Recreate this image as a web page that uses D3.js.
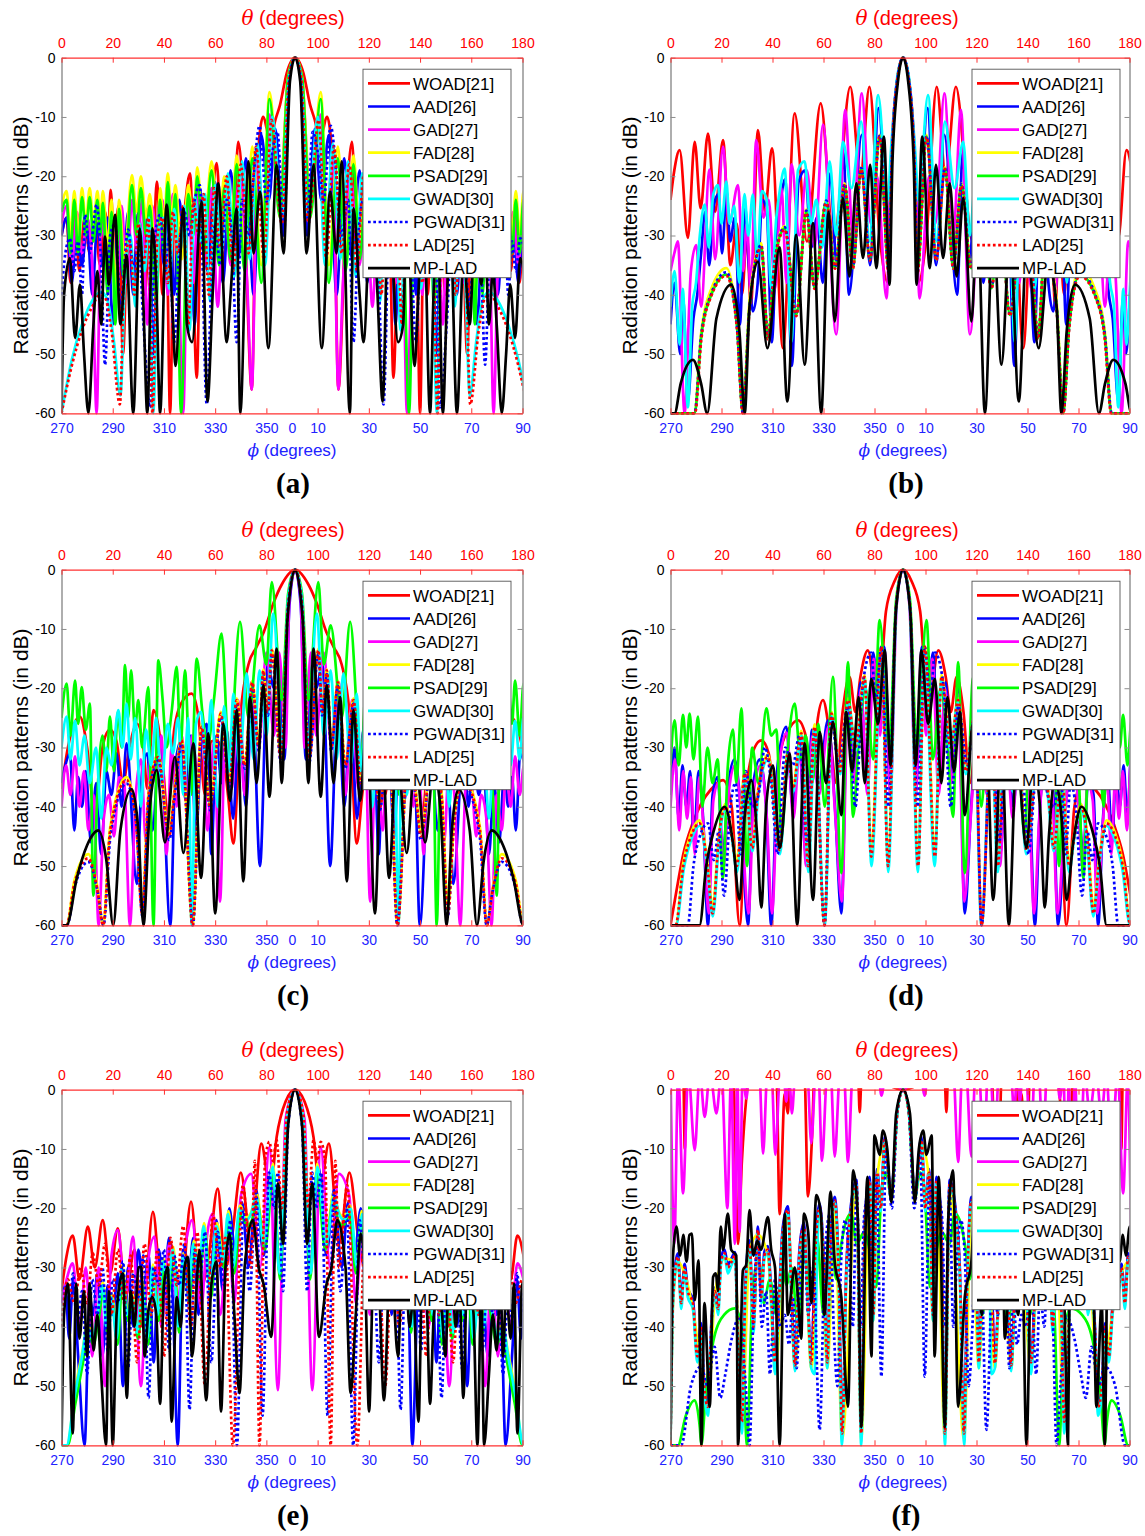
<!DOCTYPE html>
<html><head><meta charset="utf-8">
<script src="https://cdn.jsdelivr.net/npm/d3@7"></script>
<style>body{margin:0;background:#fff}svg{display:block}</style>
</head><body>
<script>
// ---------- labels / ticks ----------
const thetaTicks = [0,20,40,60,80,100,120,140,160,180];
const phiTickPos = [0,20,40,60,80,90,100,120,140,160,180];
const phiTickLabels = ["270","290","310","330","350","0","10","30","50","70","90"];
const dbTicks = [0,-10,-20,-30,-40,-50,-60];
const seriesNames = ["WOAD[21]","AAD[26]","GAD[27]","FAD[28]","PSAD[29]","GWAD[30]","PGWAD[31]","LAD[25]","MP-LAD"];
const seriesColors = ["#ff0000","#0000ff","#ff00ff","#ffff00","#00ff00","#00ffff","#0000ff","#ff0000","#000000"];
const seriesDotted = [false,false,false,false,false,false,true,true,false];
const panelLabels = ["(a)","(b)","(c)","(d)","(e)","(f)"];
// main beam direction (theta, degrees); patterns are symmetric about it
const beamCenter = 91.2;

// ---------- data: [theta, dB] pairs (peaks and nulls) from 0 deg to the main beam ----------
// panel (a)
const WOAD_a = [0,-30, 2,-27, 3.5,-38, 5,-26, 7,-36, 9,-27, 11,-33, 13,-26, 15,-35, 17,-26, 18.2,-30, 19.2,-22.3, 20.6,-32, 22.3,-25, 24,-50, 26,-28, 28,-38, 30,-26, 32.5,-40, 34.5,-28, 35.6,-35, 37.2,-20.9, 39.5,-40, 41,-30, 42.4,-60, 44,-27, 46.5,-33, 48,-26, 50.2,-19.5, 52.8,-54, 54.5,-27, 56.5,-31, 58,-28, 60.6,-17.8, 63,-36, 65,-24, 67,-30, 69,-14.2, 71.5,-28, 74.3,-56, 76,-22, 78.7,-10, 81.5,-14, 83.5,-10.5, 85.3,-8, 88,-2.5, 91.2,0];
const AAD_a = [0,-30, 2,-27, 4,-38, 6,-28, 8,-35, 10,-28, 12,-40, 14,-28, 16,-35, 18,-27, 20,-45, 22,-27, 24,-37, 26,-26, 28,-40, 30,-26, 32,-34, 34,-25, 36,-50, 38,-25, 40,-35, 42,-24, 44,-40, 46,-24, 48,-33, 50,-23, 52,-45, 54,-22, 57,-36, 60,-21, 63,-38, 66,-19, 69,-34, 72,-17, 75,-40, 78,-13, 81,-24, 83.5,-12, 86.5,-30, 89,-3.5, 91.2,0];
const GAD_a = [0,-28, 2,-25, 4,-35, 6,-26, 8,-33, 10,-27, 12,-35, 13.7,-60, 15.5,-28, 17.5,-32, 19.5,-27, 21.5,-40, 23.5,-25, 25.5,-38, 27.5,-24, 29.5,-33, 31.5,-24, 33.5,-45, 35.5,-25, 37.5,-35, 39.5,-24, 41.5,-40, 43.5,-23, 45.5,-32, 47.5,-60, 49.5,-24, 51.5,-38, 53.5,-22, 56,-35, 58.5,-22, 61,-42, 63.5,-22, 66,-35, 69.7,-20, 72.5,-38, 74.3,-56, 76.5,-17, 79,-28, 81.2,-9.6, 85,-25, 88.5,-3.5, 91.2,0];
const FAD_a = [0,-25, 2,-22.5, 3.5,-30, 5,-22.5, 6.5,-30, 8,-22, 9.5,-28, 11,-22, 12.5,-28, 14,-22.5, 15.1,-27, 16.2,-22.5, 18,-32, 19.5,-24, 21,-40, 22.5,-24, 24.5,-34, 27.5,-19.8, 29.3,-26, 31,-20, 33,-27, 34.5,-23, 37,-36, 38.5,-22, 40,-28, 41.5,-19.5, 43,-27, 44.5,-21.5, 47,-34, 49.5,-21.5, 51.5,-28, 53,-18.5, 55.5,-30, 58.6,-17.5, 61.5,-30, 63.5,-20, 66,-30, 68.4,-16.5, 71.5,-33, 74.5,-15, 78,-35, 81.2,-5.8, 85.3,-24, 88.4,-3.5, 91.2,0];
const PSAD_a = [0,-26, 2,-24, 3.5,-33, 5,-24, 6.5,-33, 8,-23.5, 9.5,-30, 11,-23.5, 12.5,-31, 14,-24, 15.1,-30, 16.2,-24.5, 18,-40, 19.5,-26, 21,-45, 22.5,-25.5, 24.5,-38, 27.5,-21.5, 29.3,-30, 31,-22, 33,-30, 34.5,-25, 37,-42, 38.5,-24, 40,-33, 41.5,-21, 43,-30, 44.5,-23, 46.7,-60, 49.5,-23, 51.5,-30, 53,-20, 55.5,-33, 58.6,-19, 61.5,-35, 63.5,-22, 66,-34, 68.4,-18, 71.5,-36, 74.5,-17, 78,-38, 81.2,-7, 85.3,-27, 88.4,-3.5, 91.2,0];
const GWAD_a = [0,-60, 4,-51, 8,-45, 12,-41, 15.5,-39.5, 18,-41, 20.5,-48, 23,-57, 25,-35, 27,-30, 28.8,-42, 30.5,-28, 32.5,-36, 34.2,-27, 35.8,-60, 38,-29, 40,-27, 42,-39, 44,-25.5, 46,-34, 48,-25, 50,-46, 52,-23.5, 54,-31, 56,-23, 58,-41, 60,-21.5, 62.5,-33, 65,-19.5, 67.5,-37, 70.5,-17.5, 73.5,-34, 76.5,-14.5, 79.5,-35, 82.3,-10, 86.2,-27, 88.8,-3.5, 91.2,0];
const PGWAD_a = [0,-40, 1.5,-33, 3.3,-30.5, 5,-36, 6.5,-31, 8,-40, 9.2,-26.5, 11,-33, 13.7,-24.8, 15.5,-35, 17,-51.8, 19,-30, 21,-28, 23,-42, 26,-29, 28,-35, 30,-31, 32,-45, 34.6,-59, 36.5,-30, 38.5,-26.5, 40.5,-36, 42,-30, 44,-48, 46,-32, 48,-26, 50,-30, 52,-24, 54,-21.5, 56.7,-58.5, 58.5,-38, 60,-28, 62,-35, 64.5,-24, 66.5,-30, 68.4,-48, 70.5,-24, 73,-30, 75,-20, 77.3,-11.5, 80.1,-24.3, 82,-17, 84.3,-12.5, 86.8,-30, 89,-3.5, 91.2,0];
const LAD_a = [0,-60, 4,-52, 8,-46, 12,-42, 15,-40, 17,-40.5, 19.5,-46, 22.8,-58.5, 24.5,-36, 26.5,-31, 28.5,-40, 30,-28, 32,-35, 34,-27, 35.5,-60, 37.5,-30, 39.5,-27, 41.5,-38, 43.5,-26, 45.5,-33, 47.5,-25, 49.5,-45, 51.5,-24, 53.5,-30, 55.5,-23, 57.5,-40, 59.5,-22, 62,-32, 64.5,-20, 67,-36, 70,-18, 73,-33, 76,-15, 79,-34, 82,-10.5, 86,-28, 88.8,-3.5, 91.2,0];
const MPLAD_a = [0,-60, 1,-40, 3.3,-33.8, 5.3,-47.3, 7.2,-38.3, 8.8,-50, 10.5,-60, 12.4,-45.6, 14,-36, 15.5,-45, 17,-30.2, 18.5,-38.3, 20.9,-26.5, 23,-45, 25.4,-33.3, 28,-60, 30.6,-28.8, 32,-42, 33.5,-60, 35.5,-28.8, 37,-38, 38.5,-60, 41,-24.8, 43.5,-44, 44.5,-52, 47.6,-25.4, 49,-45, 51,-48, 54.7,-24.3, 57,-58, 59,-40, 61.2,-21.2, 64.5,-48, 66,-40, 68.4,-25.4, 69.8,-60, 73,-17.5, 75,-33, 77.5,-22.6, 80.8,-49, 84,-18.1, 86.7,-33, 89.2,-4, 91.2,0];

// panel (b)
const WOAD_b = [0,-24, 1.5,-19, 3.6,-15.6, 6.8,-30.4, 9.5,-14.2, 11.8,-25.4, 14.7,-12.8, 17.5,-26, 20.6,-13.9, 23.5,-35, 26,-28, 28,-40, 30,-30, 31.5,-42, 34.3,-12.2, 37,-26, 39.8,-15.3, 44.1,-49, 48.7,-9.4, 53.5,-31, 58.9,-7.7, 64,-31, 70.5,-4.9, 74.5,-20, 78,-4.9, 82,-30, 85.3,-38, 86.5,-18, 89,-3.5, 91.2,0];
const AAD_b = [0,-45, 1.6,-38, 3.8,-50, 5,-41, 6.8,-58, 9,-44, 10.5,-40, 12,-33, 13.6,-26, 15.2,-35, 17,-25, 18.8,-23, 20.2,-33, 22,-22.5, 23.4,-31, 25.2,-27, 27.2,-45, 29.2,-25, 30.7,-35, 32.3,-42.8, 34.2,-38, 36,-24, 37.8,-26, 39.7,-48, 41.7,-29, 43.2,-24, 45,-20.5, 47.6,-52, 50.2,-21, 52.8,-19, 55.2,-32, 57.4,-27, 59.7,-38, 62.6,-19.5, 65.2,-35, 67.8,-16, 70,-40, 75,-13, 78.2,-35, 81.6,-8.5, 85.4,-30, 86.6,-18, 89,-3.5, 91.2,0];
const GAD_b = [0,-36, 1.5,-33, 2.9,-31, 5.5,-60, 8,-36, 10.1,-31.6, 12,-42, 15.3,-18.9, 17.5,-34, 20.6,-15, 23,-28, 26.5,-21.5, 28.5,-36, 30,-28, 31.5,-40, 33.6,-13.9, 36.5,-27, 38.5,-24, 41,-39, 43.5,-22, 45.5,-38, 47.5,-18, 50.5,-30, 53.5,-19, 56.5,-32, 59.8,-11.3, 65,-46.7, 68.5,-8.8, 71.5,-30, 75,-6, 78.5,-28, 81,-20, 84.7,-40.6, 86.5,-18, 89,-3.5, 91.2,0];
const FAD_b = [0,-60, 9.3,-60, 12,-46.5, 16,-39, 21.9,-35.5, 26,-44, 28.4,-60, 31,-41, 35.6,-31.3, 38.2,-47, 41,-33.5, 44.8,-28.4, 49.3,-43, 53.3,-25.6, 56.5,-38.5, 61.1,-24, 64.5,-35, 68.3,-21.2, 71.5,-35, 74.8,-18.5, 78.2,-33.5, 82,-13, 85.6,-36, 86.7,-18, 89,-3.5, 91.2,0];
const PSAD_b = [0,-60, 9.5,-60, 12,-47.3, 16,-40, 21.9,-36.6, 26,-45, 28.4,-60, 31,-42, 35.6,-31.9, 38.2,-47.3, 41,-34, 44.8,-28.8, 49.3,-43.4, 53.3,-26, 56.5,-38.9, 61.1,-24.3, 64.5,-35.5, 68.3,-21.5, 71.5,-35.5, 74.8,-18.7, 78.2,-34, 82,-13.3, 85.6,-36, 86.7,-18, 89,-3.5, 91.2,0];
const GWAD_b = [0,-42, 1.6,-36, 3.6,-48.4, 4.8,-39, 6.8,-59, 8.5,-42, 10,-38, 11.5,-30, 13.4,-24.8, 15,-32, 16.8,-23, 18.6,-21.5, 20,-28, 21.9,-20.9, 23.2,-28, 25,-25, 27,-38, 29,-23, 30.5,-30, 32.3,-23.1, 34,-34, 35.8,-22.5, 37.6,-23.7, 39.5,-39, 41.5,-27, 43,-22, 44.8,-18.7, 47.4,-48, 50,-19, 52.6,-17.5, 55,-28, 57.2,-24, 59.5,-32, 62.4,-17.5, 65,-30, 67.6,-14.2, 71,-22, 74.8,-10.8, 78,-31, 81.4,-6.3, 85.2,-24, 86.4,-16, 89,-3, 91.2,0];
const PGWAD_b = [0,-60, 9.4,-60, 12,-47, 16,-39.8, 21.9,-36.2, 26,-45, 28.4,-60, 31,-42, 35.6,-31.6, 38.2,-47, 41,-33.8, 44.8,-28.6, 49.3,-43.2, 53.3,-25.8, 56.5,-38.6, 61.1,-24.1, 64.5,-35.3, 68.3,-21.3, 71.5,-35.3, 74.8,-18.6, 78.2,-33.8, 82,-13.2, 85.6,-36.2, 86.7,-18, 89,-3.5, 91.2,0];
const LAD_b = [0,-60, 9.6,-60, 12.1,-47.5, 16,-40.2, 21.9,-36.8, 26,-45.5, 28.4,-60, 31,-42.5, 35.6,-32, 38.2,-47.5, 41,-34.2, 44.8,-29, 49.3,-43.6, 53.3,-26.2, 56.5,-39, 61.1,-24.5, 64.5,-35.6, 68.3,-21.6, 71.5,-35.6, 74.8,-18.8, 78.2,-34.2, 82,-13.4, 85.6,-36.5, 86.7,-18.2, 89,-3.5, 91.2,0];
const MPLAD_b = [0,-60, 1.6,-60, 4,-55, 8.8,-51, 12,-55, 14.4,-60, 18,-44, 23.8,-38.3, 27,-46, 29.1,-60, 31,-42, 34.3,-34.4, 38,-49, 42.8,-32, 45.8,-58, 49.3,-29.9, 52.6,-51.8, 55.9,-27.9, 59.1,-60, 62,-26, 64.4,-44.5, 67.6,-23.7, 70.2,-36.9, 72.9,-21.2, 75.5,-33.8, 78.3,-18.1, 80.7,-35.5, 83.7,-13.3, 85.9,-38.3, 87,-18, 89.2,-4, 91.2,0];

// panel (c)
const WOAD_c = [0,-37, 2.5,-30, 5,-26, 7.2,-24.8, 10,-30, 13.1,-41.7, 16,-30, 18.9,-27, 21.5,-29, 24,-36, 26.5,-30, 29.5,-26, 32,-30, 33.5,-37, 35.9,-23.7, 39,-30, 41.5,-41, 44,-27, 47.5,-22, 50.8,-20.9, 53.5,-25, 56,-38, 58.5,-29, 60.6,-28.8, 63,-31, 65,-38, 67.1,-46.2, 70,-24, 73,-16, 76.2,-13, 79,-10.5, 82.7,-5.7, 86,-2.5, 91.2,0];
const AAD_c = [0,-36, 1.5,-33, 3.3,-31, 5,-44, 6.5,-35, 8,-40, 9.5,-34, 11.5,-46, 13.5,-36, 15.5,-48, 17.5,-34, 19.5,-38, 21.5,-31, 23.5,-40, 25.4,-29.3, 29.4,-53, 31.5,-34, 33.5,-31, 35.5,-44, 38.5,-28.2, 42.5,-60, 44.5,-33, 46.5,-29, 48.5,-39, 50.5,-28, 52.5,-45, 54.5,-30, 56.7,-26, 58.5,-48, 60.5,-28, 62.5,-36, 64.5,-27, 67,-42, 69.5,-24, 72,-40, 74.5,-21, 77.5,-50, 80.5,-16, 83,-20, 84.5,-14, 87,-32, 89,-6, 91.2,0];
const GAD_c = [0,-40, 1.8,-33, 3.5,-38, 5.3,-31.5, 7,-40, 8.8,-34, 10.5,-44, 12.5,-38, 14.5,-60, 16.5,-42, 18.5,-38, 20.5,-45, 22.5,-35, 24.5,-36, 26.7,-60, 29,-38, 31,-32, 33,-46, 35,-30, 37,-36, 39,-28, 41,-48, 43,-30, 45,-40, 47,-28, 49,-39, 51,-28, 53,-34, 55,-26, 57,-44, 59.5,-29, 61.9,-56, 64,-26, 66.5,-37, 69,-22, 71.5,-38, 74,-19, 77,-30, 80,-14, 83,-28, 85,-14, 87.5,-30, 89,-5, 91.2,0];
const FAD_c = [0,-60, 2,-60, 5,-52.5, 10.5,-48, 14,-53.5, 16.3,-60, 19,-43.5, 25.4,-35, 29,-41.5, 31.5,-57, 34,-37.5, 37.8,-31.2, 42,-44.5, 44,-37.5, 46.9,-28.4, 51.2,-60, 54.7,-26.1, 58,-39.5, 62.2,-24, 65.5,-35.5, 68.4,-21.7, 71.5,-32.5, 74.5,-18.7, 77,-29.5, 78.8,-16.8, 80.5,-23.5, 82.1,-13.3, 85.7,-31.5, 88.5,-6, 91.2,0];
const PSAD_c = [0,-25, 2,-19.2, 3.5,-28, 5.3,-18.7, 6.5,-26, 7.9,-19.8, 9.5,-27, 11.1,-22.6, 12.4,-55, 14,-38, 16,-28, 17.5,-34, 18.9,-24.8, 20.5,-34, 22,-24, 23.5,-30, 24.8,-16.1, 26,-25, 27.2,-17, 28.7,-27, 30,-22, 31.5,-30, 33.9,-19.8, 35.9,-60, 37.8,-15.3, 39.5,-22, 41,-30, 43,-24, 45,-16.4, 46.5,-30, 48.2,-17, 50.5,-38, 52.8,-15, 55,-24, 57,-30, 59.5,-22, 62.5,-10.8, 65.5,-32, 69.7,-8.8, 73,-25, 77.3,-9.4, 80,-16, 82.1,-2.1, 86,-22, 88.5,-4, 91.2,0];
const GWAD_c = [0,-30, 2,-24.8, 3.5,-32, 5.3,-25.5, 7,-33, 9,-28, 11,-36, 13.5,-30, 15.5,-42, 17.5,-30, 19.5,-33, 22.2,-23.7, 23.8,-30, 25.4,-22.6, 27,-32, 28.8,-25, 31,-40, 33,-27, 35,-33, 37,-25, 39,-36, 41.5,-26, 43.5,-31, 45.5,-25, 47.5,-38, 49.5,-25, 50.8,-60, 52.5,-26, 54.5,-24, 56.5,-33, 58.5,-22, 61,-40, 63.5,-23, 65.5,-34, 67.1,-20.9, 69.5,-33, 72.3,-17.5, 75,-32, 77.3,-17, 80,-28, 82.7,-7.4, 86.3,-30, 88.5,-5, 91.2,0];
const PGWAD_c = [0,-60, 2.2,-60, 5.2,-53.5, 10.5,-49.3, 14.2,-54.5, 16.4,-60, 19.2,-44.6, 25.4,-36.1, 29.1,-42.6, 31.6,-58.5, 34.1,-38.6, 37.8,-32.2, 42.1,-45.6, 44.1,-38.6, 46.9,-29.4, 51.3,-60, 54.7,-27.1, 58.1,-40.6, 62.2,-24.9, 65.6,-36.6, 68.4,-22.6, 71.6,-33.6, 74.5,-19.6, 77.1,-30.6, 78.8,-17.6, 80.6,-24.6, 82.1,-14.2, 85.7,-32.6, 88.5,-6, 91.2,0];
const LAD_c = [0,-60, 2,-60, 5,-53, 10.5,-48.7, 14,-54, 16.3,-60, 19,-44, 25.4,-35.5, 29,-42, 31.5,-58, 34,-38, 37.8,-31.6, 42,-45, 44,-38, 46.9,-28.8, 51.2,-60, 54.7,-26.5, 58,-40, 62.2,-24.3, 65.5,-36, 68.4,-22, 71.5,-33, 74.5,-19, 77,-30, 78.8,-17, 80.5,-24, 82.1,-13.6, 85.7,-32, 88.5,-6, 91.2,0];
const MPLAD_c = [0,-60, 2,-60, 6,-52, 10,-46.5, 14.4,-44, 17.5,-49, 20.2,-60, 23,-44, 27.4,-37, 30,-44, 32,-60, 34.5,-40, 37.2,-33.8, 40.4,-46, 44.3,-31.6, 47.6,-47.8, 51.5,-29.3, 54.5,-52, 57.3,-27.6, 60,-58, 63.2,-26, 65.8,-39, 68.4,-23.7, 71,-52.6, 73.6,-21.5, 76.2,-36, 78.8,-19.5, 81.2,-38.3, 84,-13.3, 86,-36, 88.3,-8, 91.2,0];

// panel (d)
const WOAD_d = [0,-60, 2,-55, 5,-48, 8.5,-43, 12,-39.5, 16,-37, 20.6,-35.5, 24,-40, 27.1,-60, 30,-36, 33,-30, 35.6,-28.8, 38.5,-31, 41,-38, 43.5,-30, 47,-26.5, 50,-25.4, 53,-28, 55.5,-36, 57.5,-26, 59.8,-22, 62.5,-28, 65,-36, 67.5,-24, 70.2,-18.1, 72.5,-24, 74.5,-18, 77.4,-13.6, 81.3,-24, 84.5,-7, 87.8,-2, 91.2,0];
const AAD_d = [0,-38, 1.6,-30, 3.2,-42, 4.7,-33, 6.2,-40, 7.7,-34, 9.2,-46, 11,-34, 12.8,-42, 14.7,-60, 16.5,-38, 18.5,-35, 20.5,-48, 22.8,-36, 25.1,-32, 27.5,-40, 30.4,-60, 32.5,-36, 35,-32, 37.5,-40, 39.5,-60, 42,-33, 45.4,-26.5, 48,-40, 50.5,-29, 53,-48, 55.5,-27, 58,-37, 61.7,-25.4, 64.5,-40, 67,-58, 69.5,-20, 72,-35, 74.5,-19, 77,-36, 79.5,-14, 82,-26, 83.8,-13, 86,-36, 88.5,-6, 91.2,0];
const GAD_d = [0,-40, 1.8,-32, 3.4,-44, 5,-34, 6.5,-42, 8,-35, 9.5,-48, 11.3,-35, 13,-44, 15,-58, 16.8,-39, 18.8,-36, 20.8,-50, 23,-37, 25.3,-33, 27.8,-42, 30.6,-58, 32.8,-37, 35.3,-33, 37.8,-42, 39.8,-58, 42.3,-34, 45.6,-27.5, 48.2,-42, 50.7,-30, 53.2,-50, 55.7,-28, 58.2,-38, 61.9,-26.5, 64.7,-42, 67.2,-56, 69.7,-21, 72.2,-36, 74.7,-20, 77.2,-38, 79.7,-15, 82.2,-28, 84,-14, 86.2,-38, 88.7,-6, 91.2,0];
const FAD_d = [0,-60, 2,-60, 5,-49.5, 8,-44.5, 11.4,-42.3, 14.5,-49.5, 16.5,-57, 19,-44.5, 21.5,-39.5, 24,-44.5, 26,-49, 29.1,-34, 32,-46.5, 34.5,-36.5, 38.2,-31.2, 42.8,-46.5, 46,-30.6, 48,-36.5, 51.3,-27.2, 54,-49, 56.5,-26.1, 60.4,-60, 63.1,-24, 66.5,-33.5, 69.6,-21.7, 72.5,-29.5, 76.1,-17.8, 78.7,-47, 82.7,-12.8, 85.3,-49, 88.5,-6, 91.2,0];
const PSAD_d = [0,-33, 1.6,-25.4, 3.2,-33, 4.9,-24.5, 6.2,-30, 7.5,-24.3, 9,-32, 10.8,-24.8, 12.5,-40, 14.5,-30, 16.5,-36, 18.5,-32, 20.5,-52, 22.5,-33, 24.5,-27, 25.8,-36, 27.8,-23.4, 30,-50, 32,-30, 34.5,-36, 37.6,-23.4, 39.5,-28, 41.5,-27, 43.5,-45, 46,-30, 48.7,-22.6, 51,-32, 53,-28, 55.5,-36, 58,-26, 60.5,-40, 63.7,-18.1, 67,-51.2, 69.6,-15.6, 71.6,-41.7, 74,-28, 76.5,-20, 79.5,-32, 82,-8.5, 85.8,-30, 88.5,-5, 91.2,0];
const GWAD_d = [0,-60, 2.2,-60, 5.2,-50.5, 8.2,-45.5, 11.5,-43.2, 14.6,-51, 16.6,-58.5, 19.1,-45.5, 21.6,-40.5, 24.1,-45.5, 26.1,-51, 29.2,-34.8, 32.1,-47.5, 34.6,-37.5, 38.3,-32, 42.9,-48, 46.1,-31.4, 48.1,-37.5, 51.4,-28, 54.1,-51, 56.6,-26.9, 60.5,-60, 63.2,-24.7, 66.6,-34.5, 69.7,-22.4, 72.6,-30.5, 76.2,-18.5, 78.8,-50, 82.8,-13.4, 85.4,-51, 88.6,-6, 91.2,0];
const PGWAD_d = [0,-60, 6.8,-60, 9,-50, 11.5,-45, 14.7,-42.8, 17,-49, 19,-44, 21,-55, 23.5,-40, 25.5,-36, 27.5,-48, 29.5,-34, 32,-40, 34.5,-38, 37,-30, 39.5,-36, 42,-48, 45,-30, 48,-33, 50.5,-28, 53.5,-46, 56.5,-27, 60.4,-60, 63,-25, 66,-33, 69.5,-23, 72.5,-40, 75.5,-19, 78.7,-14, 80.5,-22, 82.7,-13, 85.5,-40, 88.5,-6, 91.2,0];
const LAD_d = [0,-60, 2,-60, 5,-50, 8,-45, 11.4,-42.8, 14.5,-50, 16.5,-58, 19,-45, 21.5,-40, 24,-45, 26,-50, 29.1,-34.4, 32,-47, 34.5,-37, 38.2,-31.6, 42.8,-47.3, 46,-31, 48,-37, 51.3,-27.6, 54,-50, 56.5,-26.5, 60.4,-60, 63.1,-24.3, 66.5,-34, 69.6,-22, 72.5,-30, 76.1,-18.1, 78.7,-48.4, 82.7,-13, 85.3,-50, 88.5,-6, 91.2,0];
const MPLAD_d = [0,-60, 11.4,-60, 14,-50, 17,-44, 21.2,-40, 24.5,-46, 27.1,-55.7, 29,-42, 31.7,-35.5, 34,-45, 35.6,-57, 37.5,-40, 40.2,-33, 42.8,-47, 46.7,-31, 49.7,-60, 52.6,-29.3, 55.9,-55.7, 58.5,-27.4, 61,-36, 63.7,-25.7, 67,-41.4, 68.9,-24, 71.2,-34, 73.8,-21.5, 76.2,-36, 78.7,-18.4, 81.4,-26, 84,-13.6, 86.3,-33, 88.4,-7, 91.2,0];

// panel (e)
const WOAD_e = [0,-34, 2,-28, 4.4,-24.6, 7,-32, 10.3,-23.1, 13,-30, 16.1,-22, 19,-31, 22,-23.4, 25,-35, 28.5,-27, 31.5,-40, 35.7,-20.6, 39,-33, 42.8,-26, 46,-38, 50.6,-18.9, 54,-34, 57.5,-28, 61,-16.7, 64,-30, 66.5,-25, 70,-14, 74,-26, 78,-9.1, 81.5,-17, 84,-8, 87.5,-2, 91.2,0];
const AAD_e = [0,-36, 1.5,-33, 3,-42, 4.5,-32, 6.5,-45, 9,-60, 11,-35, 12.5,-38, 14,-31, 16,-45, 18,-33, 20,-38, 22,-31, 24,-50, 26,-30, 28,-40, 30,-27, 32,-34, 34,-28, 36,-46, 38,-27, 40,-35, 42,-25, 43.5,-36, 45.4,-60, 47.5,-27, 49.5,-32, 51.5,-25, 53.5,-38, 55.5,-24, 58,-31, 60.5,-22, 63,-34, 65.5,-20, 68,-28, 70.5,-19, 73,-30, 76,-17, 79,-28, 82,-13, 85.2,-30, 88,-5, 91.2,0];
const GAD_e = [0,-36, 2,-32, 4.4,-29.3, 7,-40, 9.5,-30, 12,-45, 14.5,-30, 17,-50, 19.5,-28, 22,-23.7, 25,-35, 27.9,-24.8, 31,-50, 33.5,-30, 36.3,-24.8, 39,-40, 42,-26, 45,-36, 48,-27, 51,-22, 54.5,-37, 57,-24, 59.1,-20.9, 62,-38, 65,-24, 67.5,-36, 70,-18, 74.1,-14.2, 77.5,-30, 81.2,-9.7, 84.5,-50.7, 87.5,-5, 91.2,0];
const FAD_e = [0,-60, 2.2,-60, 5.2,-51, 8.2,-44, 10.2,-39.5, 12.2,-41.5, 14.2,-37.5, 16.2,-32.5, 17.7,-39.5, 19.7,-34.5, 21.7,-41.5, 23.7,-29.5, 25.7,-37.5, 27.7,-34.5, 29.7,-40.5, 31.7,-32.5, 33.7,-41.5, 35.7,-29.5, 37.7,-37.5, 39.7,-28.5, 41.7,-32.5, 43.7,-26.5, 45.7,-39.5, 47.7,-27.5, 49.7,-34.5, 51.7,-25.5, 53.7,-30.5, 55.7,-22.5, 58.2,-33.5, 60.7,-22.5, 63.2,-28.5, 65.2,-20.5, 67.2,-29.5, 69.7,-19.5, 72.3,-21.5, 74.2,-20.5, 76.2,-17.5, 79.2,-25.5, 82.6,-12.5, 85.1,-31, 88,-5, 91.2,0];
const PSAD_e = [0,-60, 2.4,-60, 5.4,-53, 8.4,-46, 10.4,-41, 12.4,-43, 14.4,-39, 16.4,-34, 17.9,-41, 19.9,-36, 21.9,-43, 23.9,-31, 25.9,-39, 27.9,-36, 29.9,-42, 31.9,-34, 33.9,-43, 35.9,-31, 37.9,-39, 39.9,-30, 41.9,-34, 43.9,-28, 45.9,-41, 47.9,-29, 49.9,-36, 51.9,-27, 53.9,-32, 55.9,-24, 58.4,-35, 60.9,-24, 63.4,-30, 65.4,-22, 67.4,-31, 69.9,-21, 72.4,-23, 74.4,-22, 76.4,-19, 79.4,-27, 82.8,-14, 85.3,-32, 88.2,-5, 91.2,0];
const GWAD_e = [0,-60, 2,-60, 5,-52, 8,-45, 10,-40, 12,-42, 14,-38, 16,-33, 17.5,-40, 19.5,-35, 21.5,-42, 23.5,-30, 25.5,-38, 27.5,-35, 29.5,-41, 31.5,-33, 33.5,-42, 35.5,-30, 37.5,-38, 39.5,-29, 41.5,-33, 43.5,-27, 45.5,-40, 47.5,-28, 49.5,-35, 51.5,-26, 53.5,-31, 55.5,-23, 58,-34, 60.5,-23, 63,-29, 65,-21, 67,-30, 69.5,-20, 72.1,-22, 74,-21, 76,-18, 79,-26, 82.5,-13, 85.1,-31, 88,-5, 91.2,0];
const PGWAD_e = [0,-40, 1.5,-33, 3,-38, 4.5,-31, 6,-40, 8,-34, 10,-48, 12,-32, 14,-38, 16,-30, 18,-44, 20,-32, 22,-36, 24,-29, 26,-47, 28,-31, 30,-35, 32,-28, 34,-52, 36,-30, 38,-33, 40,-27, 42,-44, 44,-28, 46,-33, 48,-26, 50,-54, 52,-27, 54,-32, 56,-24, 58.5,-46, 61,-24, 63.5,-33, 66,-22, 68.5,-60, 71,-20, 73.5,-34, 76,-17, 78.5,-55, 81,-14, 83,-20, 84.5,-14, 86.5,-34, 88.5,-6, 91.2,0];
const LAD_e = [0,-40, 2.5,-32, 5,-36, 7.5,-30, 10,-36, 12.2,-27.6, 14.5,-33, 17,-26, 19.5,-38, 22,-27, 24.5,-36, 27,-28, 29.5,-46, 32.4,-26, 35,-38, 37.5,-27, 40,-45, 42.5,-25, 45,-33, 47.5,-23, 50.5,-40, 53,-24, 56,-50, 59.1,-21, 62,-30, 64,-25, 66.9,-60, 70.8,-16.1, 74,-30, 75.5,-12, 77.3,-60, 79.5,-12, 81.2,-8.8, 82.5,-12, 84,-8.5, 86,-20, 88,-4, 91.2,0];
const MPLAD_e = [0,-60, 1,-38, 2.5,-32.7, 4.4,-58, 5.7,-32.7, 7,-42, 8.8,-34, 10,-45, 11,-32.7, 12.5,-44, 14,-38, 15.5,-48, 17.4,-60, 18.5,-34, 20,-60, 21.5,-38, 23,-32, 24,-31, 25.5,-52, 27,-34, 28.5,-40, 30,-30, 31.1,-29.9, 32.5,-45, 34,-37, 35.5,-35, 37,-38, 38.5,-53, 40,-33, 41.5,-29.9, 43,-56, 45,-35, 46.5,-40, 48,-30, 49.3,-28.2, 51,-45, 53.9,-27.1, 56.5,-52.4, 58.5,-33, 60.5,-29, 62.3,-54.3, 64,-30, 65.6,-24.3, 67.5,-38, 69.5,-51.2, 71.5,-30, 74.7,-22, 77,-30, 79,-33, 81.9,-41.7, 84.5,-15.8, 86.5,-26, 88.5,-6, 91.2,0];

// panel (f)  (values above 0 dB lie outside the plotted range)
const WOAD_f = [0,3, 5,3, 5.6,-10, 6.3,3, 24.5,3, 26.5,-26, 28,-12, 29.7,-1.5, 31,3, 41.5,3, 42.8,-21, 44.8,-0.7, 46,-4, 47,3, 52.5,3, 53.9,-18, 55.5,-8, 56.5,3, 73.5,3, 74.2,-3.8, 75,3, 91.2,0];
const AAD_f = [0,-60, 1,-34.5, 2.9,-27.6, 4.2,-35.5, 5.5,-29.4, 6.8,-33.5, 8.8,-35.4, 10.5,-44.5, 12,-39.4, 13.2,-49.5, 14.7,-53, 16,-39.5, 17.3,-33.4, 18.7,-36.5, 19.8,-28.4, 21.2,-27, 22.5,-29.5, 24,-28.4, 25.3,-27.4, 26.6,-44.5, 28,-55.5, 29.4,-32.5, 31,-25.4, 32.5,-39.5, 34.3,-23.1, 35.6,-34.5, 36.8,-27.4, 38.2,-26.4, 39.5,-34.5, 41,-45.5, 42.5,-35.5, 44,-23.4, 46,-19.7, 47.5,-34.5, 48.8,-46, 50.5,-27.4, 52.3,-22.4, 53.8,-34.5, 55.2,-45.7, 56.8,-26.4, 58.5,-19.2, 60.2,-29.5, 61.5,-45.5, 62.8,-24.4, 64.4,-18.1, 66,-31.5, 67.3,-57.5, 69,-29.5, 70.3,-21.4, 72.9,-15.2, 74.8,-57.5, 76.3,-21.4, 78.1,-14.7, 79.5,-37.5, 81,-13.4, 82.5,-19.5, 84,-7.9, 86.5,-17.5, 89,-3.5, 91.2,0];
const GAD_f = [0,3, 1.5,-26, 3,3, 4.9,-17.5, 7,3, 9.5,-10.2, 11.5,3, 13.4,-4.6, 15.5,3, 18,-4, 20,3, 22.3,-20, 23.8,3, 25.2,-26, 26.2,3, 27.1,-24, 28.3,3, 29.7,-1.5, 31,3, 34.8,3, 36.3,-10.8, 38,3, 39.6,3, 41.1,-11, 43,3, 44.3,3, 45.4,-2, 46.5,3, 47.6,-4, 49,3, 53.6,3, 55.2,-9, 57,3, 58,3, 59.4,-12, 61.5,3, 62.8,3, 64.4,-11.3, 66.5,3, 68,3, 69.6,-12.2, 71.5,3, 81.5,3, 82.7,-1, 84.5,3, 91.2,0];
const FAD_f = [0,-60, 1,-36, 2.9,-29, 5.5,-31, 8.8,-37, 14.7,-54, 17.3,-35, 21.2,-28.5, 25.3,-29, 28,-57, 31,-27, 34.3,-24.5, 38.2,-28, 41,-47, 46,-21, 48.8,-47, 52.3,-24, 55.2,-47, 58.5,-20.5, 61.5,-47, 64.4,-19.5, 67.3,-59, 72.9,-16.5, 74.8,-59, 78.1,-16, 79.5,-39, 81,-15, 84,-9.2, 86.5,-18.5, 89,-3.5, 91.2,0];
const PSAD_f = [0,-60, 2.9,-60, 6,-55, 9.5,-52.4, 11.5,-57, 12.1,-60, 14,-50, 17,-42, 21,-38, 25.2,-36.9, 28,-40, 30,-60, 32,-36, 34.5,-28, 36.5,-36, 39,-32, 41.5,-38, 44,-30, 45.5,-33, 47.5,-30, 50,-40, 52.5,-28, 55,-34, 57.5,-25, 60,-38, 62.5,-22, 65,-32, 67,-26, 69,-22, 70.9,-20.9, 73,-26, 76,-24, 78.5,-28, 80.7,-33.3, 82.7,-17.5, 84.5,-14, 86.6,-18, 89,-3.5, 91.2,0];
const GWAD_f = [0,-60, 1,-36, 2.9,-28.5, 4.2,-37, 5.5,-30.5, 6.8,-35, 8.8,-37, 10.5,-46, 12,-41, 13.2,-51, 14.7,-55, 16,-41, 17.3,-34.5, 18.7,-38, 19.8,-29.5, 21.2,-28, 22.5,-31, 24,-29.5, 25.3,-28.5, 26.6,-46, 28,-58, 29.4,-34, 31,-26.5, 32.5,-41, 34.3,-24, 35.6,-36, 36.8,-28.5, 38.2,-27.5, 39.5,-36, 41,-48, 42.5,-37, 44,-24.5, 46,-20.6, 47.5,-36, 48.8,-47.5, 50.5,-28.5, 52.3,-23.5, 53.8,-36, 55.2,-47, 56.5,-48, 57.5,-27.5, 58.5,-20.1, 60.2,-31, 61.5,-47, 62.8,-25.5, 64.4,-19, 66,-33, 67.2,-60, 69,-31, 70.3,-22.5, 72.9,-16.1, 74.8,-60, 76.3,-22.5, 78.1,-15.6, 79.5,-39, 81,-14.3, 82.5,-20.5, 84,-8.8, 86.5,-18.5, 89,-3.5, 91.2,0];
const PGWAD_f = [0,-60, 4.2,-60, 8,-50, 12.1,-46.7, 14.5,-50, 17.3,-43.4, 19.5,-52, 21.5,-48, 24,-42, 27.1,-38.3, 29.5,-50, 31,-60, 32.5,-38, 34.3,-25, 35.8,-40, 37.5,-34, 39,-48, 41,-32, 43,-40, 44.8,-38, 46.5,-43, 48,-35, 49.5,-47, 51,-30, 52.5,-26, 54,-38, 56,-30, 58.5,-57.4, 60.5,-28, 62.5,-21, 64,-40, 65.5,-50, 67,-28, 68.5,-22, 70,-28, 71.5,-40, 73,-16.5, 74.5,-40, 76,-21, 77.5,-18, 79,-30, 80.8,-15, 82.7,-48.4, 84.5,-10, 86.8,-20, 89,-3.5, 91.2,0];
const LAD_f = [0,-60, 1,-35, 2.9,-28.2, 4.2,-36, 5.5,-30, 6.8,-34, 8.8,-36, 10.5,-45, 12,-40, 13.2,-50, 14.7,-53.5, 16,-40, 17.3,-34, 18.7,-37, 19.8,-29, 21.2,-27.6, 22.5,-30, 24,-29, 25.3,-28, 26.6,-45, 28,-56, 29.4,-33, 31,-26, 32.5,-40, 34.3,-23.7, 35.6,-35, 36.8,-28, 38.2,-27, 39.5,-35, 41,-46, 42.5,-36, 44,-24, 46,-20.3, 47.5,-35, 48.8,-46.5, 50.5,-28, 52.3,-23, 53.8,-35, 55.2,-46.2, 56.8,-27, 58.5,-19.8, 60.2,-30, 61.5,-46, 62.8,-25, 64.4,-18.7, 66,-32, 67.3,-58, 69,-30, 70.3,-22, 72.9,-15.8, 74.8,-58, 76.3,-22, 78.1,-15.3, 79.5,-38, 81,-14, 82.5,-20, 84,-8.5, 86.5,-18, 89,-3.5, 91.2,0];
const MPLAD_f = [0,-60, 1,-28, 2.3,-23.1, 3.8,-28, 5,-24.5, 6.3,-29, 7.4,-24.5, 8.4,-24.3, 9.5,-35.5, 11,-28.8, 12.1,-60, 13.3,-36, 15.4,-53.5, 16.7,-31.6, 17.8,-31, 18.6,-34, 19.7,-23.1, 20.6,-27, 22.5,-20.9, 23.8,-27, 25.8,-28, 26.5,-60, 28.4,-30.5, 29.7,-29.5, 31,-20.3, 32.5,-28, 34,-25.5, 35.5,-27, 38.2,-21.5, 39.5,-27, 41,-30, 42.8,-60, 44.8,-20.9, 46,-38, 48.7,-30, 50,-35, 51.3,-42, 52.3,-20.9, 54,-24, 55.2,-36, 57.2,-17.8, 59,-21, 60.3,-38, 62.8,-17.2, 64.4,-29, 67,-35, 69.6,-53.5, 71.6,-13.6, 73.5,-22, 74.8,-57, 77.2,-14.7, 78.8,-45, 80,-7.7, 82,-11, 83.3,-6.9, 85,-10, 86.6,-19, 88.5,-4, 91.2,0];

const panelSeries = [
  [WOAD_a, AAD_a, GAD_a, FAD_a, PSAD_a, GWAD_a, PGWAD_a, LAD_a, MPLAD_a],
  [WOAD_b, AAD_b, GAD_b, FAD_b, PSAD_b, GWAD_b, PGWAD_b, LAD_b, MPLAD_b],
  [WOAD_c, AAD_c, GAD_c, FAD_c, PSAD_c, GWAD_c, PGWAD_c, LAD_c, MPLAD_c],
  [WOAD_d, AAD_d, GAD_d, FAD_d, PSAD_d, GWAD_d, PGWAD_d, LAD_d, MPLAD_d],
  [WOAD_e, AAD_e, GAD_e, FAD_e, PSAD_e, GWAD_e, PGWAD_e, LAD_e, MPLAD_e],
  [WOAD_f, AAD_f, GAD_f, FAD_f, PSAD_f, GWAD_f, PGWAD_f, LAD_f, MPLAD_f]
];

// ---------- drawing ----------
const FONT = "'Liberation Sans', Arial, Helvetica, sans-serif";
const svg = d3.select("body").append("svg").attr("width",1145).attr("height",1536);
svg.append("rect").attr("width",1145).attr("height",1536).attr("fill","#fff");
const defs = svg.append("defs");

const colX = [[61.5,522.5],[670.5,1129.5]];
const rowY = [57.7,569.7,1089.7];
const plotH = 355.6;
const titleCX = [293, 907];
const phiCX = [292, 903];
const labCX = [293, 906];

function pairs(flat){
  const pts=[];
  for(let i=0;i<flat.length;i+=2) pts.push([flat[i],flat[i+1]]);
  pts.sort((a,b)=>a[0]-b[0]);
  const full=pts.slice();
  for(let i=pts.length-2;i>=0;i--) full.push([2*beamCenter-pts[i][0], pts[i][1]]);
  return full;
}

panelSeries.forEach((series,pi)=>{
  const col=pi%2,row=Math.floor(pi/2);
  const [xa,xb]=colX[col];
  const ya=rowY[row], yb=ya+plotH;
  const x=d3.scaleLinear().domain([0,180]).range([xa,xb]);
  const y=d3.scaleLinear().domain([-60,0]).range([yb,ya]);
  const g=svg.append("g");

  defs.append("clipPath").attr("id","clip"+pi).append("rect")
    .attr("x",xa).attr("y",ya-1.5).attr("width",xb-xa).attr("height",plotH+3);

  const line=d3.line().x(d=>x(d[0])).y(d=>y(d[1])).curve(d3.curveMonotoneX);
  const lg=g.append("g").attr("clip-path",`url(#clip${pi})`);
  series.forEach((arr,k)=>{
    lg.append("path").datum(pairs(arr)).attr("d",line)
      .attr("fill","none").attr("stroke",seriesColors[k])
      .attr("stroke-width",2.7).attr("stroke-linejoin","round")
      .attr("stroke-dasharray",seriesDotted[k]?"2.7,2.6":null);
  });

  // left axis
  const la=g.append("g").attr("transform",`translate(${xa},0)`)
    .call(d3.axisLeft(y).tickValues(dbTicks).tickSizeInner(-5).tickSizeOuter(0).tickPadding(6).tickFormat(d=>String(d)));
  la.select(".domain").attr("stroke","#8c8c8c").attr("stroke-width",1.4);
  la.selectAll(".tick line").attr("stroke","#8c8c8c");
  la.selectAll("text").attr("fill","#000").style("font-size","14px").style("font-family",FONT);
  // right axis
  const ra=g.append("g").attr("transform",`translate(${xb},0)`)
    .call(d3.axisRight(y).tickValues(dbTicks).tickSizeInner(-5).tickSizeOuter(0).tickFormat(""));
  ra.select(".domain").attr("stroke","#8c8c8c").attr("stroke-width",1.4);
  ra.selectAll(".tick line").attr("stroke","#8c8c8c");
  // top axis (theta)
  const ta=g.append("g").attr("transform",`translate(0,${ya})`)
    .call(d3.axisTop(x).tickValues(thetaTicks).tickSizeInner(-5).tickSizeOuter(0).tickPadding(10));
  ta.select(".domain").attr("stroke","#ff3030").attr("stroke-width",1.3);
  ta.selectAll(".tick line").attr("stroke","#ff3030");
  ta.selectAll("text").attr("fill","#ff0000").style("font-size","14px").style("font-family",FONT);
  // bottom axis: red ticks
  const ba=g.append("g").attr("transform",`translate(0,${yb})`)
    .call(d3.axisBottom(x).tickValues(thetaTicks).tickSizeInner(-5).tickSizeOuter(0).tickFormat(""));
  ba.select(".domain").attr("stroke","#ff3030").attr("stroke-width",1.3);
  ba.selectAll(".tick line").attr("stroke","#ff3030");
  // bottom axis: phi labels
  const bl=g.append("g").attr("transform",`translate(0,${yb})`)
    .call(d3.axisBottom(x).tickValues(phiTickPos).tickSize(0).tickPadding(10).tickFormat((d,i)=>phiTickLabels[i]));
  bl.select(".domain").remove();
  bl.selectAll("text").attr("fill","#2222ff").style("font-size","14px").style("font-family",FONT);

  // titles
  const tt=g.append("text").attr("x",titleCX[col]).attr("y",ya-33).attr("text-anchor","middle")
    .attr("fill","#ff0000").style("font-size","20px").style("font-family",FONT);
  tt.append("tspan").style("font-style","italic").style("font-family","'DejaVu Serif', serif").text("θ");
  tt.append("tspan").text(" (degrees)");
  const pt=g.append("text").attr("x",phiCX[col]).attr("y",yb+43).attr("text-anchor","middle")
    .attr("fill","#2222ff").style("font-size","17px").style("font-family",FONT);
  pt.append("tspan").style("font-style","italic").style("font-family","'DejaVu Serif', serif").text("ϕ");
  pt.append("tspan").text(" (degrees)");
  g.append("text").attr("transform",`translate(${xa-41},${ya+plotH/2}) rotate(-90)`)
    .attr("text-anchor","middle").attr("dy","0.35em").attr("fill","#000")
    .style("font-size","21px").style("font-family",FONT).text("Radiation patterns (in dB)");
  g.append("text").attr("x",labCX[col]).attr("y",yb+80).attr("text-anchor","middle")
    .style("font-size","29px").style("font-weight","bold").style("font-family","'Liberation Serif','Times New Roman',serif")
    .text(panelLabels[pi]);

  // legend
  const lx=xa+301.5, ly=ya+11.5, lw=148, lh=208.5;
  const leg=g.append("g");
  leg.append("rect").attr("x",lx).attr("y",ly).attr("width",lw).attr("height",lh)
    .attr("fill","#fff").attr("stroke","#555").attr("stroke-width",0.9);
  seriesNames.forEach((nm,k)=>{
    const yy=ly+14.2+k*23.1;
    leg.append("line").attr("x1",lx+5).attr("x2",lx+47).attr("y1",yy).attr("y2",yy)
      .attr("stroke",seriesColors[k]).attr("stroke-width",2.7)
      .attr("stroke-dasharray",seriesDotted[k]?"2.7,2.6":null);
    leg.append("text").attr("x",lx+50).attr("y",yy).attr("dy","0.36em")
      .style("font-size","17px").style("font-family",FONT).attr("fill","#000").text(nm);
  });
});
</script>
</body></html>
